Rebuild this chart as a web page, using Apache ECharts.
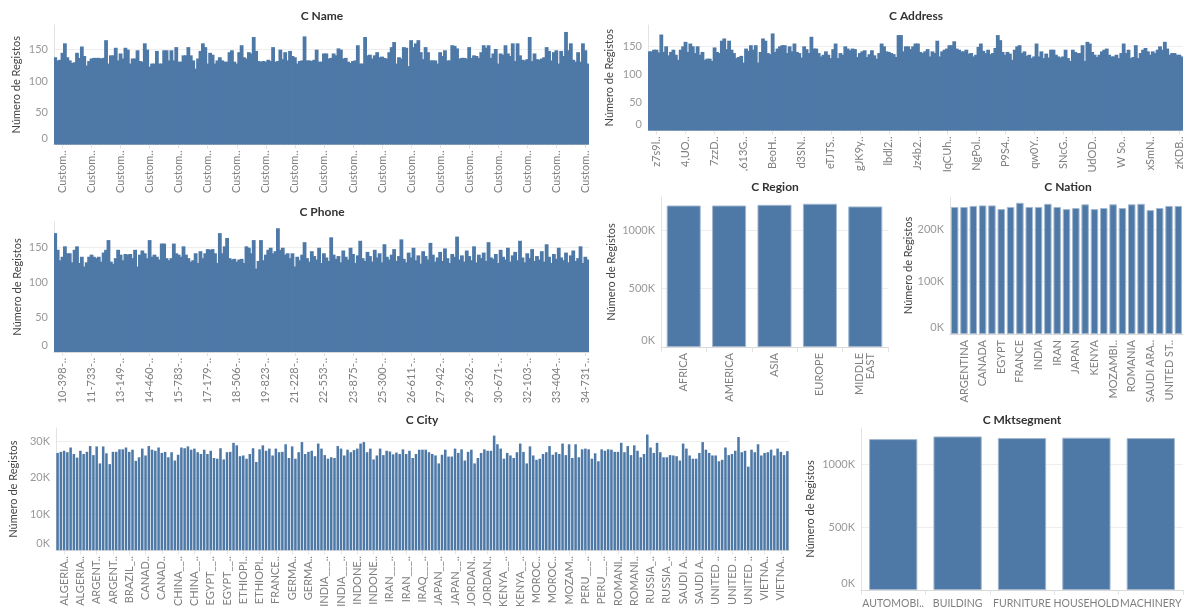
<!DOCTYPE html>
<html>
<head>
<meta charset="utf-8">
<title>Customer attribute counts</title>
<script src="https://cdn.jsdelivr.net/npm/echarts@6/dist/echarts.min.js"></script>
<style>
  html, body { margin: 0; padding: 0; background: #fff; }
  #main { width: 1187px; height: 610px; }
</style>
</head>
<body>
<div id="main"></div>
<script>
// ---- data (Número de Registos) ----
const nameValues = [
  138,133,134,145,160,138,133,129,130,145,137,155,140,125,132,136,137,137,137,136,
  137,165,128,141,141,153,133,144,136,153,150,128,136,136,149,132,131,160,150,123,
  128,128,148,128,128,149,149,133,149,133,154,131,131,141,141,154,141,133,120,136,
  148,160,154,128,145,142,128,133,138,133,131,131,146,149,131,128,146,157,138,136,
  146,144,170,148,132,131,132,131,134,132,154,131,132,150,135,146,133,148,140,138,
  128,132,133,171,133,133,132,134,150,131,131,144,144,136,137,144,141,152,150,136,
  137,131,129,132,133,157,128,128,170,141,142,136,141,146,138,139,137,136,146,154,
  162,128,138,136,154,153,124,165,154,160,165,146,135,154,146,133,133,133,128,146,
  140,149,133,133,157,156,152,136,137,137,136,154,137,141,140,137,146,157,153,157,
  137,144,151,128,144,142,157,144,140,160,132,160,141,134,133,135,170,132,144,135,
  134,136,138,154,148,133,146,149,128,148,140,178,149,160,134,131,146,131,160,149,
  128
];
const nameTicks = ['Custom..','Custom..','Custom..','Custom..','Custom..','Custom..','Custom..',
  'Custom..','Custom..','Custom..','Custom..','Custom..','Custom..','Custom..','Custom..',
  'Custom..','Custom..','Custom..','Custom..'];

const addressValues = [
  141,141,144,144,139,171,140,150,134,140,144,135,126,144,150,158,140,155,150,138,
  150,135,140,126,128,128,124,148,140,138,160,164,145,160,144,138,129,131,133,121,
  146,142,152,144,152,121,140,164,160,138,136,173,140,146,150,152,152,138,150,141,
  155,140,138,130,150,145,138,167,146,146,138,132,135,141,135,129,145,155,129,138,
  135,150,146,143,146,145,131,138,141,143,131,136,143,134,128,138,155,150,141,140,
  138,136,131,170,170,141,150,150,145,150,155,155,140,138,141,145,132,141,138,160,
  132,141,144,146,152,152,159,146,144,141,141,144,137,138,132,135,149,155,142,138,
  144,136,138,147,170,161,140,135,140,137,126,144,150,152,138,141,133,135,129,132,
  155,132,141,129,137,130,144,144,135,132,130,132,144,129,124,144,140,138,138,152,
  124,158,155,140,135,131,135,141,144,146,135,132,132,135,129,138,155,138,144,129,
  131,152,129,138,144,147,141,135,141,138,144,150,144,158,146,135,138,138,135,135,
  132
];
const addressTicks = ['z7s9l..','4,UO..','7zzD..',',613G..','BeoH..','d3SN..','eTJTS..','gJK9y..',
  'lbdl2..','Jz4b2..','IqCUh..','NgPol..','P9S4..','qw0Y..','SNcG..','UdOD..','W So..','xSmN..','zKDB..'];

const phoneValues = [
  171,147,132,137,152,142,142,129,147,152,128,137,123,129,137,140,137,135,137,130,
  143,147,161,130,127,135,147,140,132,141,140,141,135,147,123,140,146,142,135,161,
  137,140,137,133,156,156,135,132,135,156,142,140,137,152,140,135,130,132,142,128,
  145,135,142,148,147,148,142,128,171,142,152,164,135,133,134,130,133,134,128,152,
  150,142,161,120,131,161,132,140,147,150,142,145,178,147,150,140,142,135,142,123,
  137,132,140,158,135,130,145,138,133,150,128,142,136,131,165,140,134,138,129,146,
  137,133,150,141,128,139,160,135,131,144,138,130,147,136,142,129,155,137,133,140,
  148,131,138,162,134,129,143,136,150,132,139,127,145,138,133,157,140,130,136,144,
  131,149,135,128,141,137,166,133,139,130,146,138,132,152,129,140,135,143,131,158,
  136,134,141,128,147,137,133,150,130,139,144,132,160,136,129,142,135,148,131,138,
  133,145,130,155,137,128,141,134,150,136,132,143,129,139,146,131,135,152,128,137,
  133
];
const phoneTicks = ['10-398-..','11-733-..','13-149-..','14-460-..','15-783-..','17-179-..','18-506-..',
  '19-823-..','21-228-..','22-553-..','23-875-..','25-300-..','26-611-..','27-942-..','29-362-..',
  '30-671-..','32-103-..','33-404-..','34-731-..'];

const regions = ['AFRICA', 'AMERICA', 'ASIA', 'EUROPE', 'MIDDLE EAST'];
const regionValues = [1213000, 1213000, 1219000, 1228000, 1205000];

const nations = ['ALGERIA','ARGENTINA','BRAZIL','CANADA','CHINA','EGYPT','ETHIOPIA','FRANCE','GERMANY',
  'INDIA','INDONESIA','IRAN','IRAQ','JAPAN','JORDAN','KENYA','MOROCCO','MOZAMBIQUE','PERU','ROMANIA',
  'RUSSIA','SAUDI ARABIA','UNITED KINGDOM','UNITED STATES','VIETNAM'];
const nationValues = [242000,242000,244000,245000,245000,238000,242000,250000,242000,242000,
  248000,242000,238000,240000,247000,238000,240000,247000,240000,247000,248000,236000,240000,244000,244000];

// cities per nation in the extract (same order as nations)
const citiesPerNation = [10,10,5,10,10,10,10,5,10,10,10,10,5,10,10,10,10,5,10,10,10,10,10,5,10];
const cityValues = [
  26.9,27.2,27.5,27.1,28.4,26.6,25.6,27.5,26.6,27.2,28.8,26.3,28.7,24.0,28.7,26.8,23.8,27.2,27.2,27.9,
  27.9,28.4,27.2,27.8,24.7,25.7,28.1,26.2,28.8,27.8,27.5,28.4,26.9,27.2,25.7,27.1,24.8,26.4,28.4,28.2,
  28.7,27.8,28.1,27.1,26.6,27.8,26.6,27.5,25.5,25.3,28.2,25.1,27.1,27.2,29.7,29.0,26.0,26.2,25.3,26.6,
  28.2,24.4,27.9,29.0,27.5,28.1,26.2,28.1,27.1,27.2,29.3,25.5,28.7,25.3,27.1,29.9,26.6,27.2,27.5,26.0,
  29.5,28.1,26.3,25.3,25.7,25.5,28.8,28.1,26.2,27.8,27.1,27.7,28.1,29.5,29.9,27.1,28.1,25.1,26.2,28.1,
  26.3,27.5,27.3,26.5,27.0,26.6,27.9,26.6,27.5,25.5,26.6,27.8,27.8,27.8,27.1,26.6,26.2,24.0,26.4,27.8,
  25.9,25.9,28.1,26.9,27.9,24.8,27.2,27.8,24.0,25.5,26.9,27.9,27.5,27.5,31.7,29.3,28.1,25.3,26.9,26.2,
  25.5,27.1,29.5,27.2,24.0,28.7,26.2,25.0,25.3,26.6,27.1,28.8,26.4,27.1,26.6,29.5,26.3,29.3,25.5,29.3,
  25.7,27.9,28.1,27.9,25.3,26.8,24.6,27.9,27.5,27.9,27.8,27.2,27.2,29.7,27.1,28.8,26.3,29.0,27.5,25.7,
  26.6,32.0,28.4,26.9,29.7,27.1,25.7,25.7,26.3,26.2,26.0,24.8,29.5,28.1,26.2,25.3,25.3,26.9,29.9,27.8,
  26.9,26.2,26.2,24.6,25.0,28.4,26.3,26.6,27.5,31.3,27.1,27.5,23.1,27.8,27.1,29.3,26.2,26.9,27.1,27.8,
  26.2,28.1,27.2,26.3,27.4
]; // thousands

const segments = ['AUTOMOBILE', 'BUILDING', 'FURNITURE', 'HOUSEHOLD', 'MACHINERY'];
const segmentValues = [1198000, 1219000, 1206000, 1209000, 1206000];

// ---- chart ----
const FONT = 'Lato, "Noto Sans", sans-serif';
const BLUE = '#4e79a7';
const EDGE = '#a3b7cf';
const YNAME = 'Número de Registos';

const cities = [];
nations.forEach((n, i) => {
  for (let d = 0; d < citiesPerNation[i]; d++) {
    cities.push(n.slice(0, 9).padEnd(9, '_') + d);
  }
});
const ids = (arr, prefix) => arr.map((_, i) => prefix + (i + 1));

const chart = echarts.init(document.getElementById('main'));

const grids = [
  {left: 54, top: 25, width: 535, height: 119.5},   // C Name
  {left: 648, top: 25, width: 535, height: 105.5},  // C Address
  {left: 54, top: 222, width: 535, height: 130},    // C Phone
  {left: 661, top: 197, width: 227, height: 150},   // C Region
  {left: 950, top: 197, width: 233, height: 137},   // C Nation
  {left: 53, top: 428, width: 736, height: 127},    // C City
  {left: 861, top: 428, width: 322, height: 162}    // C Mktsegment
];

const titles = [
  ['C Name', 322, 10], ['C Address', 916, 10], ['C Phone', 322, 206],
  ['C Region', 775, 181], ['C Nation', 1068, 181],
  ['C City', 422, 414], ['C Mktsegment', 1022, 414]
];

const labelBase = {color: '#7f7f7f', fontSize: 11, fontFamily: FONT};

function denseX(gridIndex, data, ticks) {
  const show = i => i % 12 === 3;
  return {
    type: 'category', gridIndex: gridIndex, data: data,
    axisLine: {lineStyle: {color: '#d9d9d9'}},
    axisTick: {show: true, interval: show, alignWithLabel: true, length: 4, lineStyle: {color: '#e3e3e3'}},
    axisLabel: Object.assign({}, labelBase, {
      interval: show, rotate: 90, margin: 6,
      formatter: (v, i) => ticks[(i - 3) / 12] || ''
    })
  };
}

function catX(gridIndex, data, label, tick) {
  return {
    type: 'category', gridIndex: gridIndex, data: data,
    axisLine: {lineStyle: {color: '#d9d9d9'}},
    axisTick: Object.assign({show: true, length: 5, lineStyle: {color: '#e3e3e3'}}, tick || {}),
    axisLabel: Object.assign({}, labelBase, {margin: 6}, label)
  };
}

function valY(gridIndex, max, interval, nameGap, fmt) {
  return {
    type: 'value', gridIndex: gridIndex, min: 0, max: max, interval: interval,
    name: YNAME, nameLocation: 'middle', nameGap: nameGap,
    nameTextStyle: {color: '#444', fontSize: 11, fontFamily: FONT},
    axisLine: {show: true, lineStyle: {color: '#e3e3e3'}},
    axisTick: {show: false},
    axisLabel: {
      color: '#999', fontSize: 11, fontFamily: FONT, margin: 6,
      formatter: v => {
        if (v % interval !== 0) return '';
        return v === 0 ? '{z|' + fmt(v) + '}' : fmt(v);
      },
      rich: {z: {color: '#999', fontSize: 11, fontFamily: FONT, padding: [0, 0, 13, 0]}}
    },
    splitLine: {show: true, showMaxLine: false, showMinLine: false, lineStyle: {color: '#eeeeee'}}
  };
}

const plain = v => String(v);
const kilo = v => (v / 1000) + 'K';

// dense charts: bars overlap their neighbours so no light seams show
const denseBar = (i, data) => ({
  type: 'bar', xAxisIndex: i, yAxisIndex: i, data: data, barWidth: 3.8, itemStyle: {color: BLUE}
});
const boxBar = (i, data, gap) => ({
  type: 'bar', xAxisIndex: i, yAxisIndex: i, data: data, barCategoryGap: gap,
  itemStyle: {color: BLUE, borderColor: EDGE, borderWidth: 1}
});

const option = {
  animation: false,
  backgroundColor: '#ffffff',
  title: titles.map(t => ({
    text: t[0], left: t[1], top: t[2], textAlign: 'center', padding: 0,
    textStyle: {color: '#333', fontSize: 12, fontWeight: 'bold', fontFamily: FONT}
  })),
  grid: grids,
  xAxis: [
    denseX(0, ids(nameValues, 'Customer#'), nameTicks),
    denseX(1, ids(addressValues, 'addr'), addressTicks),
    denseX(2, ids(phoneValues, 'phone'), phoneTicks),
    catX(3, regions, {rotate: 90, interval: 0, formatter: v => v.replace(' ', '\n')}),
    catX(4, nations, {rotate: 90, interval: i => i % 2 === 1, width: 66, overflow: 'truncate', ellipsis: '..'},
      {show: false}),
    catX(5, cities, {rotate: 90, interval: i => i % 5 === 2, width: 52, overflow: 'truncate', ellipsis: '..'},
      {interval: i => i % 5 === 2, alignWithLabel: true, length: 4}),
    catX(6, segments, {rotate: 0, interval: 0, margin: 8, hideOverlap: false, fontSize: 10.5,
      formatter: v => v.length > 9 ? v.slice(0, 8) + '..' : v})
  ],
  yAxis: [
    valY(0, 189, 50, 32, plain),
    valY(1, 188, 50, 33, plain),
    valY(2, 187, 50, 31, plain),
    valY(3, 1286000, 500000, 44, kilo),
    valY(4, 261000, 100000, 35, kilo),
    valY(5, 33800, 10000, 30, kilo),
    valY(6, 1286000, 500000, 45, kilo)
  ],
  series: [
    denseBar(0, nameValues),
    denseBar(1, addressValues),
    denseBar(2, phoneValues),
    boxBar(3, regionValues, '25%'),
    boxBar(4, nationValues, '20%'),
    {type: 'bar', xAxisIndex: 5, yAxisIndex: 5, data: cityValues.map(v => v * 1000), barCategoryGap: '22%',
      itemStyle: {color: BLUE}},
    boxBar(6, segmentValues, '25%')
  ]
};

chart.setOption(option);
</script>
</body>
</html>
